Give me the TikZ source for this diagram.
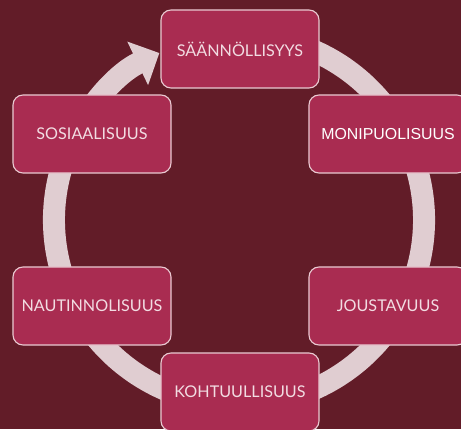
\documentclass[tikz,border=0pt]{standalone}
\usepackage{fontspec}
\setmainfont{Lato}
\newfontfamily\arialfont{Liberation Sans}
\usetikzlibrary{arrows.meta, positioning}
\definecolor{BgRed}{HTML}{621C28}
\definecolor{BoxRed}{HTML}{A92C51}
\definecolor{RingPink}{HTML}{E0CDD1}
\definecolor{EdgePink}{HTML}{E9C9D1}
\definecolor{TextPink}{HTML}{F2DCE2}

\begin{document}
\begin{tikzpicture}[x=0.025cm, y=0.025cm,
    box/.style={draw=EdgePink, line width=0.8pt, fill=BoxRed, rounded corners=0.25cm,
      minimum width=3.95cm, minimum height=1.95cm, text=TextPink,
      font=\fontsize{11.5}{13}\selectfont}]
  \fill[BgRed] (0,0) rectangle (461,429);
  \useasboundingbox (0,0) rectangle (461,429);
  % kehä ja nuoli
  \draw[RingPink, line width=0.55cm, -{Triangle[width=1.17cm, length=0.6cm]}]
    (239,209) ++(70:185) arc[start angle=70, end angle=-244.5, radius=185];
  % laatikot
  \node[box] (saannollisyys) at (240,380) {SÄÄNNÖLLISYYS};
  \node[box] (sosiaalisuus) at (92,295) {SOSIAALISUUS};
  \node[box, text=white, font=\arialfont\fontsize{11.3}{13}\selectfont] (monipuolisuus) at (388,295) {MONIPUOLISUUS};
  \node[box] (nautinnolisuus) at (92,123) {NAUTINNOLISUUS};
  \node[box] (joustavuus) at (388,123) {JOUSTAVUUS};
  \node[box] (kohtuullisuus) at (240,37) {KOHTUULLISUUS};
\end{tikzpicture}
\end{document}
